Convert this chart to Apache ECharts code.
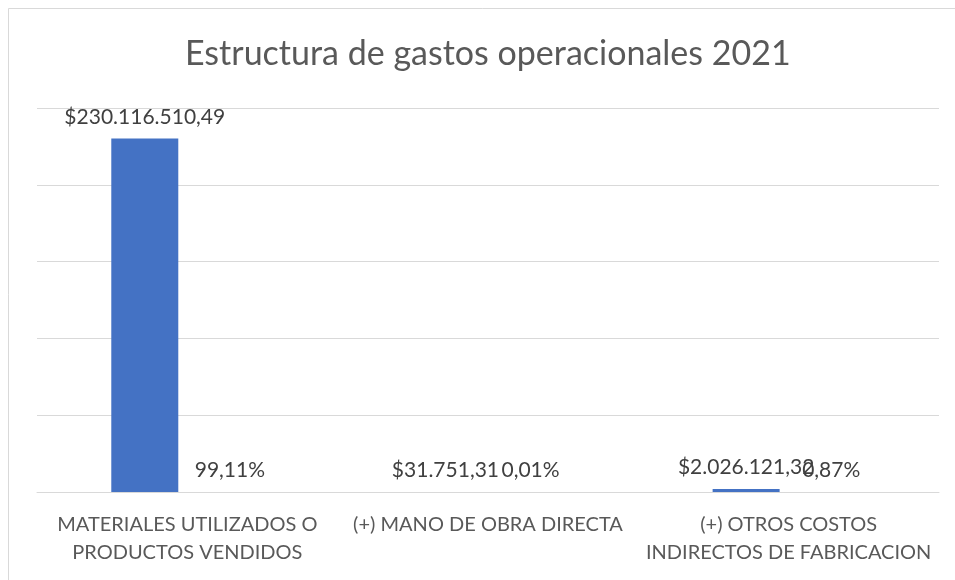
<!DOCTYPE html>
<html>
<head>
<meta charset="utf-8">
<script src="https://cdn.jsdelivr.net/npm/echarts@6/dist/echarts.min.js"></script>
<style>
html,body{margin:0;padding:0;background:#fff;}
#chart{width:955px;height:580px;}
</style>
</head>
<body>
<div id="chart"></div>
<script>
const categories = [
  'MATERIALES UTILIZADOS O\nPRODUCTOS VENDIDOS',
  '(+) MANO DE OBRA DIRECTA',
  '(+) OTROS COSTOS\nINDIRECTOS DE FABRICACION'
];
const amounts = [230116510.49, 31751.31, 2026121.32];
const shares = [0.9911, 0.0001, 0.0087];
const yMin = 0, yMax = 250000000, yInterval = 50000000;

function groupThousands(s) {
  return s.replace(/\B(?=(\d{3})+(?!\d))/g, '.');
}
function money(v) {
  const parts = v.toFixed(2).split('.');
  return '$' + groupThousands(parts[0]) + ',' + parts[1];
}
function pct(v) {
  return (v * 100).toFixed(2).replace('.', ',') + '%';
}

const FONT = 'Lato';
const chart = echarts.init(document.getElementById('chart'));
chart.setOption({
  animation: false,
  backgroundColor: '#ffffff',
  title: {
    text: 'Estructura de gastos operacionales 2021',
    left: 180,
    top: 32,
    textStyle: { fontFamily: FONT, fontSize: 34, fontWeight: 'normal', color: '#595959' }
  },
  graphic: [{
    type: 'polyline',
    shape: { points: [[8.5, 585], [8.5, 8.5], [960, 8.5]] },
    style: { stroke: '#d9d9d9', lineWidth: 1, fill: null },
    silent: true
  }],
  grid: { left: 37, right: 16, top: 108, bottom: 88, containLabel: false },
  xAxis: {
    type: 'category',
    data: categories,
    axisLine: { show: true, lineStyle: { color: '#d9d9d9', width: 1 } },
    axisTick: { show: false },
    axisLabel: {
      interval: 0,
      margin: 19,
      fontFamily: FONT,
      fontSize: 20,
      lineHeight: 28,
      color: '#595959'
    }
  },
  yAxis: {
    type: 'value',
    min: yMin,
    max: yMax,
    interval: yInterval,
    axisLabel: { show: false },
    axisLine: { show: false },
    axisTick: { show: false },
    splitLine: { show: true, lineStyle: { color: '#d9d9d9', width: 1 } }
  },
  series: [
    {
      name: 'Valor',
      type: 'bar',
      data: amounts,
      barWidth: 67,
      barGap: '27%',
      itemStyle: { color: '#4472c4' },
      label: {
        show: true,
        position: 'top',
        distance: 11,
        fontFamily: FONT,
        fontSize: 21,
        color: '#404040',
        formatter: p => money(p.value)
      }
    },
    {
      name: 'Porcentaje',
      type: 'bar',
      data: shares,
      barWidth: 67,
      barGap: '27%',
      itemStyle: { color: '#ed7d31' },
      label: {
        show: true,
        position: 'top',
        distance: 11,
        fontFamily: FONT,
        fontSize: 21,
        color: '#404040',
        formatter: p => pct(p.value)
      }
    }
  ]
});
</script>
</body>
</html>
